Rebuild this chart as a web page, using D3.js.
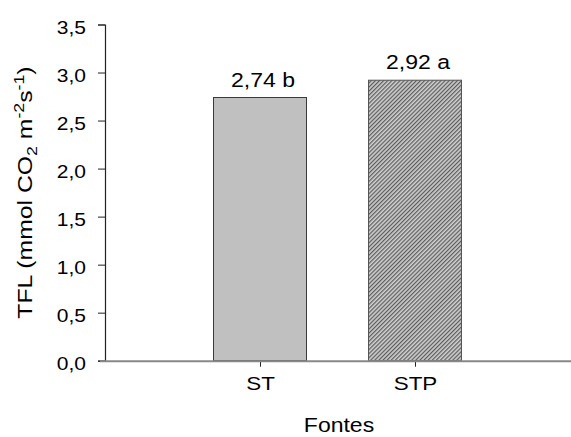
<!DOCTYPE html>
<html><head><meta charset="utf-8">
<script src="https://cdn.jsdelivr.net/npm/d3@7"></script>
<style>body{margin:0;background:#fff}text{font-family:"Liberation Sans",Arial,sans-serif;fill:#000}</style>
</head><body><svg id="c" width="571" height="437"></svg>
<script>
const categories = ["ST", "STP"];
const values = [2.74, 2.92];
const valueLabels = ["2,74 b", "2,92 a"];
const yTicks = [0, 0.5, 1.0, 1.5, 2.0, 2.5, 3.0, 3.5];

const svg = d3.select("#c");
const x = d3.scaleLinear().domain([0, 3]).range([105, 570]);
const y = d3.scaleLinear().domain([0, 3.5]).range([360.7, 24.5]);
const fmt = d => d3.format(".1f")(d).replace(".", ",");
const K = 1.18; // horizontal stretch of text glyphs

function stretch(sel, k) {
  sel.each(function () {
    const t = d3.select(this);
    const xv = +(t.attr("x") || 0);
    t.attr("x", xv / k).attr("transform", `scale(${k},1)`);
  });
}

const defs = svg.append("defs");
const pat = defs.append("pattern").attr("id", "hatch").attr("patternUnits", "userSpaceOnUse")
  .attr("width", 2.9).attr("height", 2.9).attr("patternTransform", "rotate(45)");
pat.append("rect").attr("width", 2.9).attr("height", 2.9).attr("fill", "#cfcfcf");
pat.append("line").attr("x1", 0.6).attr("y1", 0).attr("x2", 0.6).attr("y2", 2.9)
  .attr("stroke", "#5a5a5a").attr("stroke-width", 1.2);

const bw = 0.6;
svg.selectAll("rect.bar").data(values).enter().append("rect").attr("class", "bar")
  .attr("x", (d, i) => x(i + 1 - bw / 2))
  .attr("width", x(bw) - x(0))
  .attr("y", d => y(d))
  .attr("height", d => y(0) - y(d))
  .attr("fill", (d, i) => i === 0 ? "#c0c0c0" : "url(#hatch)")
  .attr("stroke", (d, i) => i === 0 ? "#3a3a3a" : "#555").attr("stroke-width", 1);

const vl = svg.selectAll("text.vl").data(values).enter().append("text").attr("class", "vl")
  .attr("x", (d, i) => x(i + 1) + 3)
  .attr("y", d => y(d) - 11)
  .attr("text-anchor", "middle").attr("font-size", 19.5)
  .text((d, i) => valueLabels[i]);
stretch(vl, K);

// y axis
const ya = svg.append("g").attr("transform", "translate(105,0)")
  .call(d3.axisLeft(y).tickValues(yTicks).tickFormat(fmt).tickSize(7).tickPadding(12));
ya.select(".domain").attr("stroke", "#222").attr("stroke-width", 1.2);
ya.selectAll(".tick line").attr("stroke", "#222");
ya.selectAll("text").attr("font-size", 17.5).attr("dy", "0.5em")
  .attr("font-family", "Liberation Sans, Arial, sans-serif").attr("fill", "#000");
stretch(ya.selectAll("text"), 1.2);

// x axis
const xa = svg.append("g").attr("transform", `translate(0,${y(0)})`)
  .call(d3.axisBottom(x).tickValues([1, 2]).tickFormat((d) => categories[d - 1]).tickSize(6).tickSizeOuter(0).tickPadding(10));
xa.select(".domain").remove();
xa.append("line").attr("x1", 100).attr("x2", 571).attr("y1", 0.5).attr("y2", 0.5)
  .attr("stroke", "#888").attr("stroke-width", 2);
xa.selectAll(".tick line").attr("stroke", "#222");
xa.selectAll("text").attr("font-size", 19)
  .attr("font-family", "Liberation Sans, Arial, sans-serif").attr("fill", "#000");
stretch(xa.selectAll("text"), K);

const ft = svg.append("text").attr("x", 339).attr("y", 432)
  .attr("text-anchor", "middle").attr("font-size", 19.5).text("Fontes");
stretch(ft, K);

const yt = svg.append("text").attr("transform", `translate(31.5,${(y(0) + y(3.5)) / 2}) rotate(-90) scale(${K},1)`)
  .attr("text-anchor", "middle").attr("font-size", 21);
yt.append("tspan").text("TFL (mmol CO");
yt.append("tspan").attr("font-size", 15).attr("dy", 5).text("2");
yt.append("tspan").attr("dy", -5).text(" m");
yt.append("tspan").attr("font-size", 15).attr("dy", -8).text("-2");
yt.append("tspan").attr("dy", 8).text("s");
yt.append("tspan").attr("font-size", 15).attr("dy", -8).text("-1");
yt.append("tspan").attr("dy", 8).text(")");
</script></body></html>
